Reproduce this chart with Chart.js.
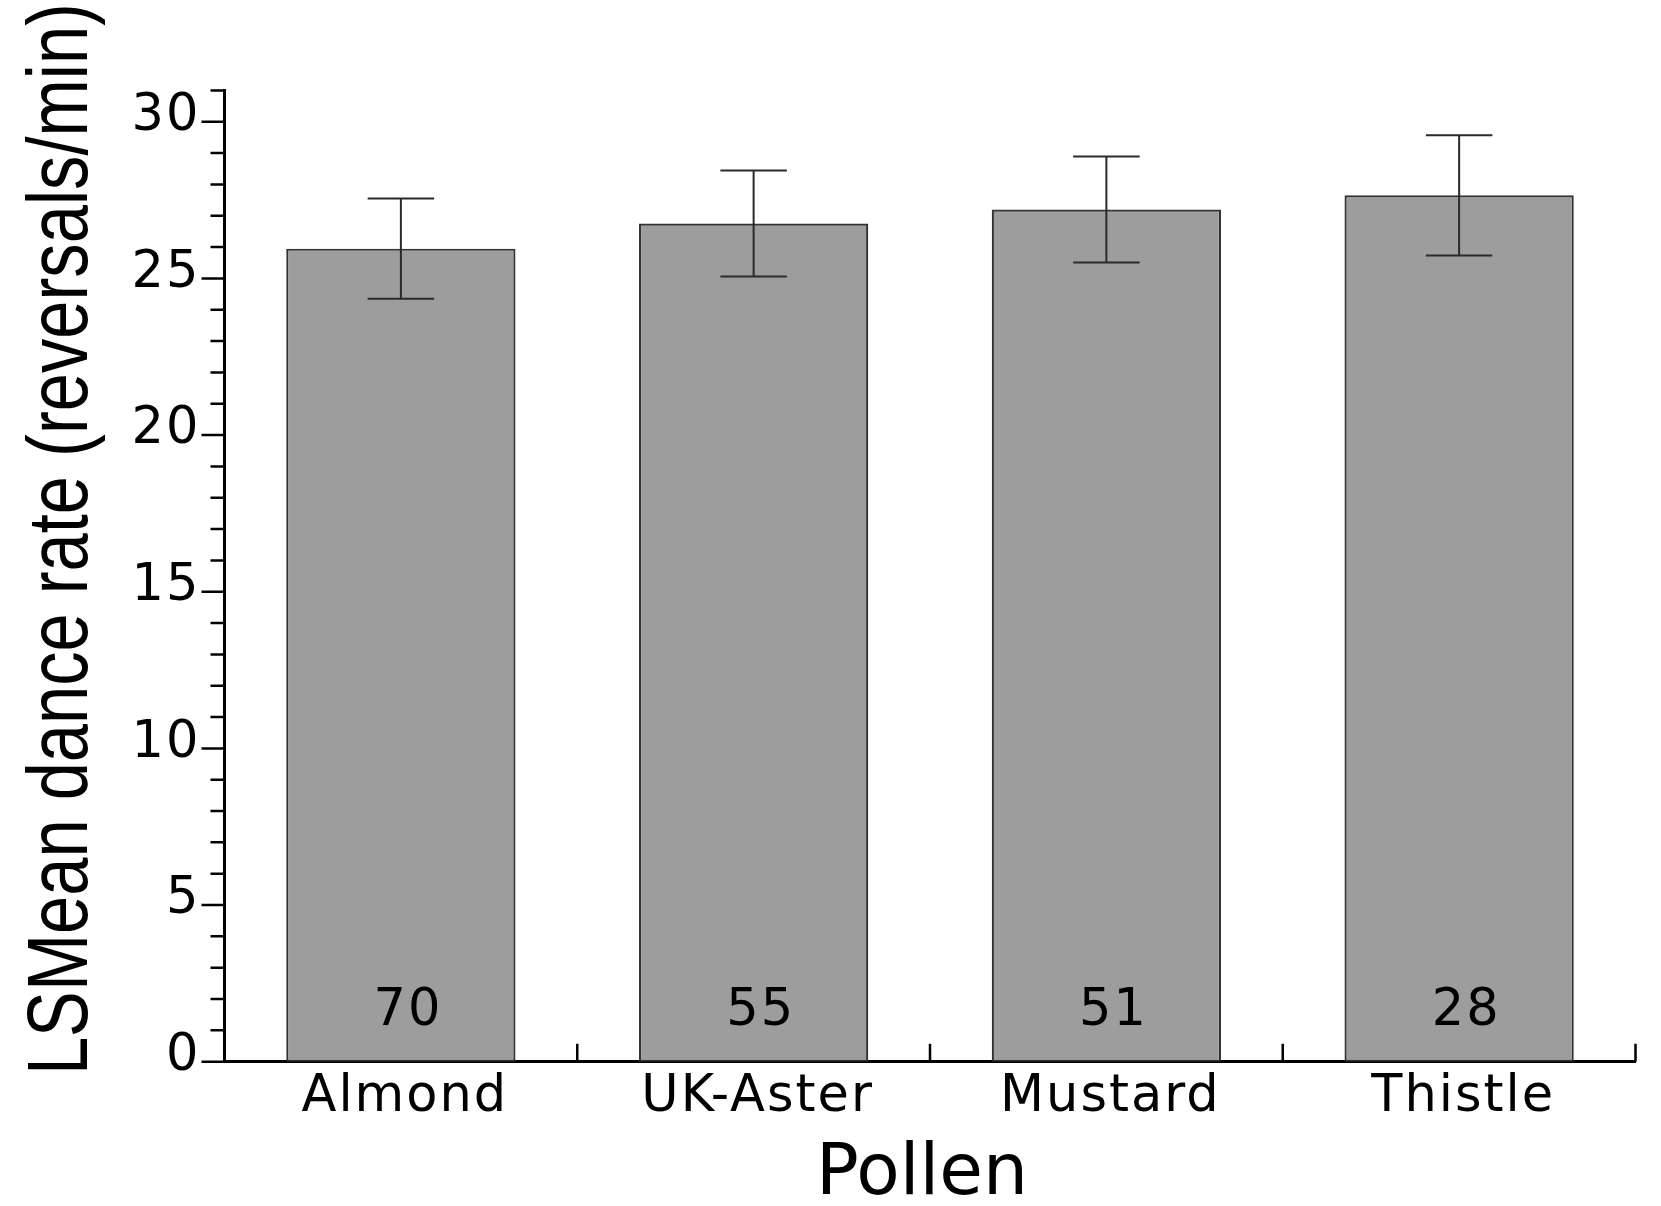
<!DOCTYPE html>
<html><head><meta charset="utf-8">
<script src="https://cdn.jsdelivr.net/npm/chart.js@4/dist/chart.umd.min.js"></script>
<style>html,body{margin:0;padding:0;background:#fff;overflow:hidden}#wrap{width:1661px;height:1206px;position:relative}</style>
</head><body><div id="wrap"><canvas id="c" width="1661" height="1206"></canvas></div>
<script>
const categories = ['Almond', 'UK-Aster', 'Mustard', 'Thistle'];
const means = [25.95, 26.75, 27.2, 27.65];
const errors = [1.6, 1.69, 1.69, 1.92];
const counts = ['70', '55', '51', '28'];
const yMin = 0, yMax = 31, yStep = 1, yLabelEvery = 5;
const xTitle = 'Pollen';
const yTitle = 'LSMean dance rate (reversals/min)';

const decor = {
  id: 'decor',
  beforeDraw(chart) {
    chart.ctx.letterSpacing = '2px';
  },
  afterDatasetsDraw(chart) {
    const ctx = chart.ctx, xs = chart.scales.x, ys = chart.scales.y;
    const meta = chart.getDatasetMeta(0);
    ctx.save();
    ctx.strokeStyle = '#2a2a2a';
    ctx.lineWidth = 2;
    means.forEach((m, i) => {
      const cx = xs.getPixelForValue(i);
      const half = meta.data[i].width * 0.145;
      const top = ys.getPixelForValue(m + errors[i]);
      const bot = ys.getPixelForValue(m - errors[i]);
      ctx.beginPath();
      ctx.moveTo(cx, top); ctx.lineTo(cx, bot);
      ctx.moveTo(cx - half, top); ctx.lineTo(cx + half, top);
      ctx.moveTo(cx - half, bot); ctx.lineTo(cx + half, bot);
      ctx.stroke();
    });
    ctx.fillStyle = '#000';
    ctx.font = '51px "DejaVu Sans"';
    ctx.textAlign = 'center';
    ctx.textBaseline = 'alphabetic';
    counts.forEach((c, i) => {
      ctx.fillText(c, xs.getPixelForValue(i) + 7, ys.getPixelForValue(0) - 37);
    });
    ctx.restore();
  },
  afterDraw(chart) {
    const ctx = chart.ctx, xs = chart.scales.x, ys = chart.scales.y, a = chart.chartArea;
    ctx.save();
    ctx.strokeStyle = '#000';
    ctx.lineWidth = 2.5;
    ctx.beginPath();
    for (let v = yMin; v <= yMax; v += yStep) {
      const py = ys.getPixelForValue(v);
      const len = (v % yLabelEvery === 0) ? 23 : 14;
      ctx.moveTo(a.left - len, py); ctx.lineTo(a.left, py);
    }
    const n = categories.length;
    const y0 = ys.getPixelForValue(0);
    for (let i = 1; i <= n; i++) {
      const px = i < n ? (xs.getPixelForValue(i - 1) + xs.getPixelForValue(i)) / 2 : a.right;
      ctx.moveTo(px, y0); ctx.lineTo(px, y0 - 18);
    }
    ctx.stroke();
    ctx.letterSpacing = '0px';
    ctx.fillStyle = '#000';
    // x title
    ctx.font = '71px "DejaVu Sans"';
    ctx.textAlign = 'center';
    ctx.textBaseline = 'alphabetic';
    ctx.fillText(xTitle, (a.left + a.right) / 2 - 8, a.bottom + 132);
    // y title (condensed)
    ctx.font = '86px "Liberation Sans"';
    const w = ctx.measureText(yTitle).width;
    const sx = 1072 / w;
    ctx.translate(87, (a.top + a.bottom) / 2 - 37);
    ctx.rotate(-Math.PI / 2);
    ctx.scale(sx, 1);
    ctx.fillText(yTitle, 0, 0);
    ctx.restore();
  }
};

new Chart(document.getElementById('c'), {
  type: 'bar',
  data: {
    labels: categories,
    datasets: [{
      data: means,
      backgroundColor: '#9d9d9d',
      borderColor: '#333333',
      borderWidth: 2.2,
      borderSkipped: false,
      barPercentage: 0.65,
      categoryPercentage: 1.0
    }]
  },
  options: {
    responsive: false,
    animation: false,
    layout: { padding: { left: 0, top: 90.4, right: 25.5, bottom: 0 } },
    plugins: { legend: { display: false }, tooltip: { enabled: false }, title: { display: false } },
    scales: {
      x: {
        type: 'category',
        offset: true,
        grid: { display: false },
        border: { display: true, color: '#000', width: 3 },
        ticks: { color: '#000', font: { family: 'DejaVu Sans', size: 51 }, padding: -3, labelOffset: 4, maxRotation: 0, autoSkip: false },
        afterFit(s) { s.height = 144.3; }
      },
      y: {
        min: yMin, max: yMax,
        grid: { display: false },
        border: { display: true, color: '#000', width: 3 },
        ticks: {
          stepSize: yStep, autoSkip: false, color: '#000',
          font: { family: 'DejaVu Sans', size: 51 },
          padding: 16, labelOffset: -5,
          callback: v => (v % yLabelEvery === 0 ? String(v) : '')
        },
        afterFit(s) { s.width = 224.5; }
      }
    }
  },
  plugins: [decor]
});
</script>
</body></html>
